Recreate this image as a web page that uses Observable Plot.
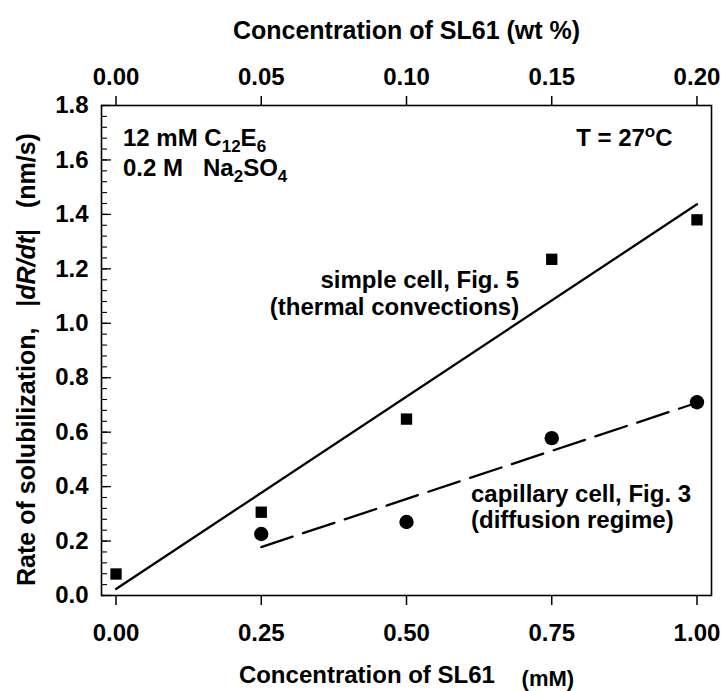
<!DOCTYPE html>
<html><head><meta charset="utf-8">
<script src="https://cdn.jsdelivr.net/npm/d3@7"></script>
<script src="https://cdn.jsdelivr.net/npm/@observablehq/plot@0.6"></script>
<style>
body{margin:0;background:#fff}
svg{white-space:pre}
</style>
</head><body><div id="chart"></div>
<script>
// ---- data ----
const concentrationMM = [0, 0.25, 0.5, 0.75, 1.0];
const simpleCellRate = [0.079, 0.306, 0.648, 1.235, 1.38];
const capillaryMM = [0.25, 0.5, 0.75, 1.0];
const capillaryCellRate = [0.226, 0.270, 0.578, 0.710];
const simpleFitX = [0, 1.0];
const simpleFitY = [0.024, 1.437];
const capillaryFitX = [0.25, 1.0];
const capillaryFitY = [0.178, 0.708];

const xTicks = [0, 0.25, 0.5, 0.75, 1.0];
const xTickLabels = ["0.00", "0.25", "0.50", "0.75", "1.00"];
const wtTickLabels = ["0.00", "0.05", "0.10", "0.15", "0.20"];
const yTicks = [0, 0.2, 0.4, 0.6, 0.8, 1.0, 1.2, 1.4, 1.6, 1.8];
const yTickLabels = ["0.0", "0.2", "0.4", "0.6", "0.8", "1.0", "1.2", "1.4", "1.6", "1.8"];
const yMinorTicks = d3.range(0, 1.8001, 0.04);

const topTitle = "Concentration of SL61 (wt %)";
const bottomTitle = "Concentration of SL61    ~{(mM)}";
const yTitle = "Rate of solubilization,   |*dR/dt*|   (nm/s)";

const startNotes = [
  {text: "12 mM C_{12}E_{6}", x: 0.012, y: 1.653},
  {text: "0.2 M   Na_{2}SO_{4}", x: 0.012, y: 1.54},
  {text: "T = 27^{o}C", x: 0.792, y: 1.653},
  {text: "capillary cell, Fig. 3", x: 0.611, y: 0.343},
  {text: "(diffusion regime)", x: 0.611, y: 0.248}
];
const endNotes = [
  {text: "simple cell, Fig. 5", x: 0.694, y: 1.128},
  {text: "(thermal convections)", x: 0.694, y: 1.029}
];

// ---- tables ----
const simple = concentrationMM.map((x, i) => ({x, y: simpleCellRate[i]}));
const capillary = capillaryMM.map((x, i) => ({x, y: capillaryCellRate[i]}));
const simpleFit = simpleFitX.map((x, i) => ({x, y: simpleFitY[i]}));
const capillaryFit = capillaryFitX.map((x, i) => ({x, y: capillaryFitY[i]}));

const FS = 24;
const font = "'Liberation Sans', Arial, Helvetica, sans-serif";

const chart = Plot.plot({
  width: 722,
  height: 691,
  marginLeft: 101,
  marginRight: 11,
  marginTop: 105,
  marginBottom: 96,
  style: {fontFamily: font, fontWeight: "bold", fontSize: FS + "px", color: "#000", background: "#fff"},
  x: {domain: [-0.025, 1.025]},
  y: {domain: [0, 1.8]},
  marks: [
    Plot.axisX({anchor: "bottom", ticks: xTicks, tickFormat: d => xTickLabels[xTicks.indexOf(d)], tickSize: 10, tickPadding: 18, label: null, strokeWidth: 1.5, fontSize: FS}),
    Plot.axisX({anchor: "top", ticks: xTicks, tickFormat: d => wtTickLabels[xTicks.indexOf(d)], tickSize: 10, tickPadding: 11, label: null, strokeWidth: 1.5, fontSize: FS}),
    Plot.axisY({anchor: "left", ticks: yTicks, tickFormat: d => yTickLabels[yTicks.indexOf(d)], tickSize: 0, tickPadding: 13, label: null, fontSize: FS}),
    Plot.axisY({anchor: "left", ticks: yTicks, tickFormat: () => "", tickSize: 10, dx: 10, label: null, strokeWidth: 1.3}),
    Plot.axisY({anchor: "left", ticks: yMinorTicks, tickFormat: () => "", tickSize: 6, dx: 6, label: null, strokeWidth: 1.1}),
    Plot.frame({stroke: "#000", strokeWidth: 1.6}),
    Plot.line(simpleFit, {x: "x", y: "y", stroke: "#000", strokeWidth: 2.3}),
    Plot.line(capillaryFit, {x: "x", y: "y", stroke: "#000", strokeWidth: 2.3, strokeDasharray: "33,11"}),
    Plot.dot(simple, {x: "x", y: "y", symbol: "square", r: 6.4, fill: "#000", stroke: "none"}),
    Plot.dot(capillary, {x: "x", y: "y", symbol: "circle", r: 7.2, fill: "#000", stroke: "none"}),
    Plot.text(startNotes, {x: "x", y: "y", text: "text", textAnchor: "start", lineAnchor: "bottom", fill: "#000", fontSize: FS, fontWeight: "bold"}),
    Plot.text(endNotes, {x: "x", y: "y", text: "text", textAnchor: "end", lineAnchor: "bottom", fill: "#000", fontSize: FS, fontWeight: "bold"}),
    Plot.text([topTitle], {frameAnchor: "top", dy: -67, lineAnchor: "bottom", textAnchor: "middle", fill: "#000", fontSize: 25, fontWeight: "bold"}),
    Plot.text([bottomTitle], {frameAnchor: "bottom", dy: 87, lineAnchor: "bottom", textAnchor: "middle", fill: "#000", fontSize: FS, fontWeight: "bold"}),
    Plot.text([yTitle], {frameAnchor: "left", dx: -67, dy: 9, rotate: -90, textAnchor: "middle", lineAnchor: "bottom", fill: "#000", fontSize: 25, fontWeight: "bold"})
  ]
});

// rich text: _{sub}, ^{sup}, ~{smaller, lowered}, *italic*
const NS = "http://www.w3.org/2000/svg";
function rich(el, str) {
  const parts = str.match(/_\{[^}]*\}|\^\{[^}]*\}|~\{[^}]*\}|\*[^*]*\*|[^_^~*]+/g);
  while (el.firstChild) el.removeChild(el.firstChild);
  let shift = 0;
  for (const p of parts) {
    let txt = p, target = 0, fs = null, italic = false;
    if (p.startsWith("_{")) { txt = p.slice(2, -1); target = 6; fs = 17; }
    else if (p.startsWith("^{")) { txt = p.slice(2, -1); target = -9; fs = 17; }
    else if (p.startsWith("~{")) { txt = p.slice(2, -1); target = 3; fs = 22; }
    else if (p.startsWith("*")) { txt = p.slice(1, -1); italic = true; }
    const ts = document.createElementNS(NS, "tspan");
    if (target !== shift) ts.setAttribute("dy", target - shift);
    shift = target;
    if (fs) ts.setAttribute("font-size", fs);
    if (italic) ts.setAttribute("font-style", "italic");
    ts.textContent = txt;
    el.appendChild(ts);
  }
}
d3.select(chart).selectAll("text").each(function () {
  const t = this.textContent;
  if (/[_^~]\{|\*/.test(t)) rich(this, t);
});

document.getElementById("chart").appendChild(chart);
</script>
</body></html>
